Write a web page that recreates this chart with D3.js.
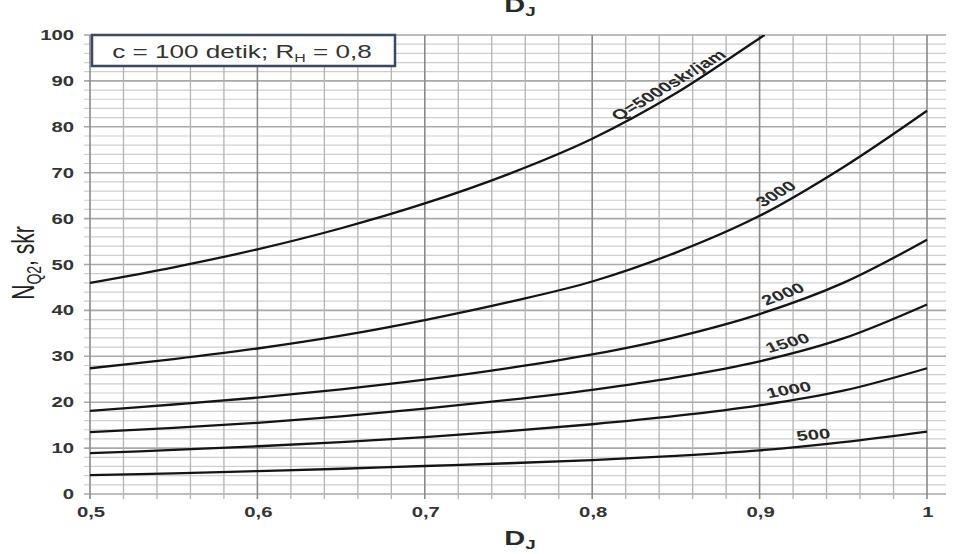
<!DOCTYPE html>
<html><head><meta charset="utf-8">
<script src="https://cdn.jsdelivr.net/npm/d3@7/dist/d3.min.js"></script>
<style>
body{margin:0;background:#fff}
svg{display:block;font-family:"Liberation Sans",Arial,sans-serif}
</style>
</head><body>
<svg id="chart" width="958" height="554"></svg>
<script>
// ---- data ----
const dj = [0.5, 0.55, 0.6, 0.65, 0.7, 0.75, 0.8, 0.85, 0.9, 0.95, 1.0];
const q500  = [4.1, 4.5, 5.0, 5.5, 6.1, 6.7, 7.4, 8.3, 9.5, 11.3, 13.6];
const q1000 = [8.9, 9.6, 10.4, 11.3, 12.4, 13.7, 15.2, 17.0, 19.3, 22.5, 27.4];
const q1500 = [13.5, 14.4, 15.5, 16.9, 18.6, 20.5, 22.7, 25.4, 28.9, 33.9, 41.3];
const q2000 = [18.1, 19.5, 21.0, 22.8, 24.9, 27.4, 30.4, 34.2, 39.2, 46.0, 55.4];
const q3000 = [27.4, 29.4, 31.7, 34.5, 37.9, 41.8, 46.3, 52.6, 60.6, 71.2, 83.5];
const dj5000 = [0.5, 0.55, 0.6, 0.65, 0.7, 0.75, 0.8, 0.85, 0.9, 0.903];
const q5000  = [46.0, 49.4, 53.3, 57.9, 63.3, 69.7, 77.4, 87.3, 99.3, 100];
const seriesNames = ["Q=5000skr/jam", "3000", "2000", "1500", "1000", "500"];
const labelAtDj = [0.85, 0.914, 0.917, 0.919, 0.919, 0.933];
const xTicks = [0.5, 0.6, 0.7, 0.8, 0.9, 1];
const xTickLabels = ["0,5", "0,6", "0,7", "0,8", "0,9", "1"];
const yTicks = [0, 10, 20, 30, 40, 50, 60, 70, 80, 90, 100];
const boxText = ["c = 100 detik; R", "H", " = 0,8"];
const yTitle = ["N", "Q2", ", skr"];
const xTitle = ["D", "J"];

const series = [
  {name: seriesNames[0], xs: dj5000, ys: q5000, lab: labelAtDj[0]},
  {name: seriesNames[1], xs: dj, ys: q3000, lab: labelAtDj[1]},
  {name: seriesNames[2], xs: dj, ys: q2000, lab: labelAtDj[2]},
  {name: seriesNames[3], xs: dj, ys: q1500, lab: labelAtDj[3]},
  {name: seriesNames[4], xs: dj, ys: q1000, lab: labelAtDj[4]},
  {name: seriesNames[5], xs: dj, ys: q500,  lab: labelAtDj[5]}
];

// ---- layout ----
const SX = 1.45; // horizontal stretch of the reference's text
const svg = d3.select("#chart");
const x = d3.scaleLinear().domain([0.5, 1]).range([90, 927]);
const y = d3.scaleLinear().domain([0, 100]).range([494, 35]);
const gridRight = 946;

// grid
const g = svg.append("g");
const hLines = d3.range(0, 100.001, 2);
g.selectAll("line.h").data(hLines).join("line")
  .attr("x1", 84).attr("x2", gridRight)
  .attr("y1", d => y(d)).attr("y2", d => y(d))
  .attr("stroke", d => d % 10 === 0 ? "#a9a9a9" : "#cfcfcf")
  .attr("stroke-width", d => d % 10 === 0 ? 1.6 : 1.2);
const vLines = d3.range(0, 26).map(i => 0.5 + i * 0.02);
g.selectAll("line.v").data(vLines).join("line")
  .attr("x1", d => x(d)).attr("x2", d => x(d))
  .attr("y1", y(100)).attr("y2", y(0) + 5)
  .attr("stroke", (d, i) => i % 5 === 0 ? "#8a8a8a" : "#b4b4b4")
  .attr("stroke-width", (d, i) => i % 5 === 0 ? 1.6 : 1.3);

// curves
svg.append("clipPath").attr("id", "clip").append("rect")
  .attr("x", x(0.5)).attr("y", y(100)).attr("width", x(1) - x(0.5) + 2).attr("height", y(0) - y(100));
const line = d3.line().x(d => x(d[0])).y(d => y(d[1])).curve(d3.curveCatmullRom.alpha(0.5));
svg.append("g").attr("clip-path", "url(#clip)")
  .selectAll("path").data(series).join("path")
  .attr("d", s => line(s.xs.map((v, i) => [v, s.ys[i]])))
  .attr("fill", "none").attr("stroke", "#141414").attr("stroke-width", 2.3);

// curve labels
series.forEach(s => {
  const interp = d3.scaleLinear().domain(s.xs).range(s.ys);
  const px = x(s.lab), py = y(interp(s.lab));
  const dx = x(s.lab + 0.01) - x(s.lab - 0.01);
  const dy = y(interp(s.lab + 0.01)) - y(interp(s.lab - 0.01));
  const ang = Math.atan2(dy, dx);
  const angIn = Math.atan2(dy * SX, dx) * 180 / Math.PI;
  const off = 5.5;
  const ox = px + Math.sin(ang) * off, oy = py - Math.cos(ang) * off;
  svg.append("text")
    .attr("transform", `translate(${ox},${oy}) scale(${SX},1) rotate(${angIn})`)
    .attr("text-anchor", "middle")
    .attr("font-size", 14).attr("font-weight", "bold").attr("fill", "#2a2a2a")
    .text(s.name);
});

// tick labels
svg.append("g").selectAll("text").data(yTicks).join("text")
  .attr("transform", d => `translate(74,${y(d)}) scale(${SX},1)`)
  .attr("dy", "0.36em").attr("text-anchor", "end")
  .attr("font-size", 14).attr("font-weight", "bold").attr("fill", "#333")
  .text(d => d);
svg.append("g").selectAll("text").data(xTicks).join("text")
  .attr("transform", (d, i) => `translate(${x(d) + 1},517) scale(${SX},1)`)
  .attr("text-anchor", "middle")
  .attr("font-size", 14).attr("font-weight", "bold").attr("fill", "#333")
  .text((d, i) => xTickLabels[i]);

// annotation box
svg.append("rect").attr("x", x(0.5) + 2).attr("y", y(100)).attr("width", 303).attr("height", 31)
  .attr("fill", "#fff").attr("stroke", "#3b4a62").attr("stroke-width", 2.5);
const bt = svg.append("text")
  .attr("transform", `translate(242,58) scale(${SX},1)`)
  .attr("text-anchor", "middle").attr("font-size", 18).attr("fill", "#333");
bt.append("tspan").text(boxText[0]);
bt.append("tspan").attr("font-size", 11).attr("dy", 4).text(boxText[1]);
bt.append("tspan").attr("dy", -4).text(boxText[2]);

// y title
const yt = svg.append("text")
  .attr("transform", `translate(34,263) scale(${SX},1) rotate(-90)`)
  .attr("text-anchor", "middle").attr("font-size", 21).attr("fill", "#222");
yt.append("tspan").text(yTitle[0]);
yt.append("tspan").attr("font-size", 14).attr("dy", 5).text(yTitle[1]);
yt.append("tspan").attr("dy", -5).text(yTitle[2]);

// x titles (bottom and cut-off top, as in the reference)
function xTitleAt(ty) {
  const t = svg.append("text")
    .attr("transform", `translate(520,${ty}) scale(${SX},1)`)
    .attr("text-anchor", "middle").attr("font-size", 20).attr("font-weight", "bold").attr("fill", "#2a2a2a");
  t.append("tspan").text(xTitle[0]);
  t.append("tspan").attr("font-size", 13).attr("dy", 4).text(xTitle[1]);
}
xTitleAt(545);
xTitleAt(12);
</script>
</body></html>
